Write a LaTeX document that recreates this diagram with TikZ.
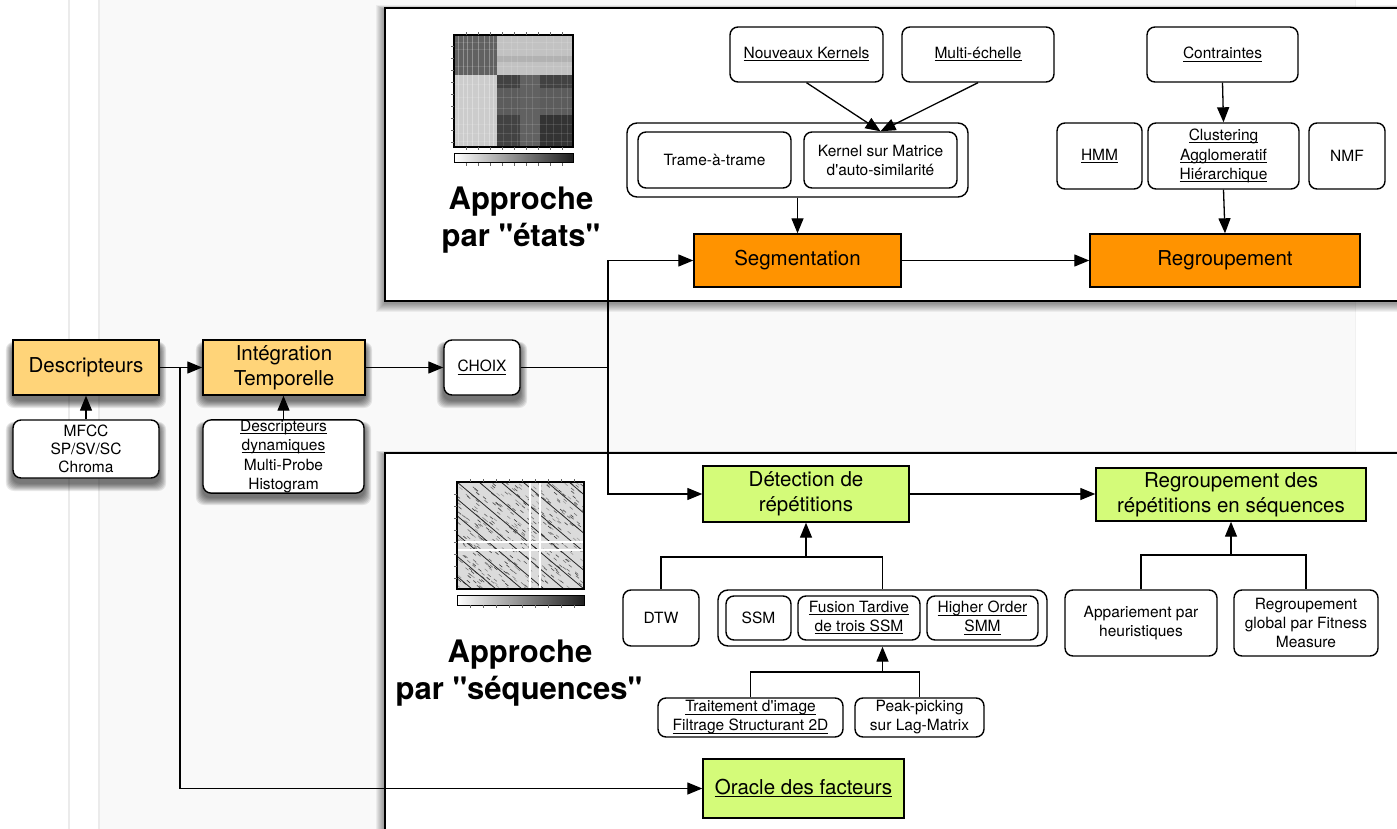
\documentclass[tikz,border=0pt]{standalone}
\usepackage{fontspec}
% plain family: keeps straight quotes and apostrophes
\newfontfamily\hv{TeX Gyre Heros}
\usetikzlibrary{arrows.meta}
\definecolor{tangerine}{HTML}{FF9300}
\definecolor{cantaloupe}{HTML}{FFD479}
\definecolor{honeydew}{HTML}{D4FB79}
\definecolor{canvas}{HTML}{F9F9F9}
\definecolor{pagerule}{HTML}{EBEBEB}
% underline drawn as a rule under the text box
\newcommand{\ulin}[1]{\leavevmode\setbox0\hbox{#1}\rlap{\rule[-2.6pt]{\wd0}{1pt}}\box0}
% soft drop shadow under a box given by its corners
\newcommand{\softshadow}[4]{%
  \foreach \i in {1,...,8}{%
    \fill[black, opacity=0.085, rounded corners=8pt]
      (#1-0.9*\i, #2+5-0.4*\i) rectangle (#3+0.9*\i, #4+5+\i);}}
\tikzset{
  box/.style={draw=black, line width=1.4pt, fill=white, align=center, inner sep=0pt, text=black},
  small/.style={font=\hv\fontsize{15.5}{19}\selectfont},
  big/.style={font=\hv\fontsize{20.5}{25}\selectfont},
  rbox/.style={box, small, rounded corners=8pt},
  grpbox/.style={box, rounded corners=10pt},
  obox/.style={box, big, fill=tangerine},
  gbox/.style={box, big, fill=honeydew},
  lbox/.style={box, big, fill=cantaloupe},
  arr/.style={line width=1.3pt, -{Triangle[length=15pt,width=12pt]}},
  con/.style={line width=1.3pt},
  title/.style={font=\hv\fontsize{31}{36}\selectfont\bfseries, anchor=base},
  panel/.style={draw=black, line width=1.5pt, fill=white},
  cbar/.style={draw=black, line width=1pt, left color=white, right color=black!88},
}
\begin{document}
\begin{tikzpicture}[x=1pt,y=-1pt]
\useasboundingbox (0,0) rectangle (1397,829);
\clip (0,0) rectangle (1397,829);

% canvas and page rules
\fill[white] (0,0) rectangle (1397,829);
\fill[canvas] (100,0) rectangle (1355,829);
\draw[pagerule, line width=2pt] (69,0) -- (69,829) (99,0) -- (99,829);
\draw[pagerule!70, line width=1pt] (1355,0) -- (1355,829);

% panel shadows
\foreach \i in {1,...,9} {
  \fill[black, opacity=0.05] (385-\i, 10-0.5*\i) rectangle (1420, 303+\i);
  \fill[black, opacity=0.05] (385-\i, 455-0.5*\i) rectangle (1420, 845);
}
% panels
\path[panel] (385,8) rectangle (1420,301);
\path[panel] (385,453) rectangle (1420,845);

% shadows of the feature extraction boxes
\softshadow{13}{340}{159}{395}
\softshadow{203}{340}{365}{395}
\softshadow{444}{340}{520}{395}
\softshadow{13}{420}{159}{478}
\softshadow{203}{420}{364}{492}

% ---- state-based self-similarity matrix
\fill[black!62] (454,35) rectangle (497,75);
\fill[black!24] (497,35) rectangle (573,75);
\fill[black!20] (454,75) rectangle (497,147);
\fill[black!74] (497,75) rectangle (573,147);
\fill[black!64] (497,88) rectangle (573,115);
\fill[black!62] (520,75) rectangle (540,147);
\fill[black!80] (540,115) rectangle (573,147);
\fill[black!30] (497,56) rectangle (573,62);
\foreach \x in {458,463,467,472,478,484,489,493}
  \draw[white, opacity=0.3, line width=0.8pt] (\x,35) -- (\x,147);
\foreach \x in {503,511,517,526,532,546,553,561,567}
  \draw[white, opacity=0.12, line width=0.8pt] (\x,35) -- (\x,147);
\foreach \y in {42,49,66,84,97,108,124,133,141}
  \draw[white, opacity=0.12, line width=0.8pt] (454,\y) -- (573,\y);
\draw[line width=1.2pt] (454,35) rectangle (573,147);
\foreach \x in {466,478,490,502,514,526,538,550,562}
  \draw[line width=0.4pt, black!60] (\x,35) -- (\x,32) (\x,147) -- (\x,150);
\foreach \y in {46,58,70,82,94,106,118,130,142}
  \draw[line width=0.4pt, black!60] (454,\y) -- (451,\y);
\path[cbar] (454,154) rectangle (573,163);
\foreach \x in {466,478,490,502,514,526,538,550,562}
  \draw[line width=0.4pt, black!60] (\x,163) -- (\x,166);

\node[title] (t1a) at (521,210) {Approche};
\node[title] (t1b) at (521,247) {par "états"};

% ---- sequence-based self-similarity matrix
\fill[black!14] (457,482) rectangle (584,589);
\begin{scope}
  \clip (457,482) rectangle (584,589);
  \pgfmathsetseed{7}
  \foreach \k in {1,...,420} {
    \pgfmathsetmacro{\rx}{457+127*rnd}
    \pgfmathsetmacro{\ry}{482+107*rnd}
    \pgfmathsetmacro{\rg}{35+45*rnd}
    \draw[black!\rg, line width=0.6pt] (\rx,\ry) -- ++(3,2.5);
  }
  \foreach \o in {-112,-88,-62,-40,-20,0,22,44,66,90,112}
    \draw[black!85, line width=0.8pt] (457+\o,482) -- ++(127,107);
  \draw[white, line width=1.8pt] (530,482) -- (530,589) (540,482) -- (540,589)
        (457,542) -- (584,542) (457,550) -- (584,550);
\end{scope}
\draw[line width=1.2pt] (457,482) rectangle (584,589);
\foreach \x in {470,483,496,509,522,535,548,561,574}
  \draw[line width=0.4pt, black!60] (\x,482) -- (\x,479);
\foreach \y in {494,506,518,530,542,554,566,578}
  \draw[line width=0.4pt, black!60] (457,\y) -- (454,\y);
\path[cbar] (457,595) rectangle (584,605);
\foreach \x in {470,483,496,509,522,535,548,561,574}
  \draw[line width=0.4pt, black!60] (\x,605) -- (\x,608);

\node[title] (t2a) at (520,662) {Approche};
\node[title] (t2b) at (519,699) {par "séquences"};

% ---- feature extraction chain
\node[lbox, minimum width=146pt, minimum height=55pt] (desc) at (86,367.5) {Descripteurs};
\node[lbox, minimum width=162pt, minimum height=55pt] (integ) at (284,367.5) {Intégration\\Temporelle};
\node[rbox, minimum width=76pt, minimum height=55pt] (choix) at (482,367.5) {\ulin{CHOIX}};
\node[rbox, minimum width=146pt, minimum height=58pt, font=\hv\fontsize{15.5}{18}\selectfont] (mfcc) at (86,449) {MFCC\\SP/SV/SC\\Chroma};
\node[rbox, minimum width=161pt, minimum height=72pt, font=\hv\fontsize{15.5}{19.5}\selectfont] (ddyn) at (283.5,456.5) {\ulin{Descripteurs}\\\ulin{dynamiques}\\Multi-Probe\\Histogram};

% ---- state-based branch
\node[rbox, minimum width=153pt, minimum height=55pt] (nk) at (806.5,54.5) {\ulin{Nouveaux Kernels}};
\node[rbox, minimum width=152pt, minimum height=55pt] (me) at (978,54.5) {\ulin{Multi-échelle}};
\node[rbox, minimum width=151pt, minimum height=55pt] (ct) at (1222.5,54.5) {\ulin{Contraintes}};
\node[grpbox, minimum width=341pt, minimum height=74pt] (grp1) at (797.5,160) {};
\node[rbox, minimum width=153pt, minimum height=56pt] (tt) at (714.5,160) {Trame-à-trame};
\node[rbox, minimum width=153pt, minimum height=56pt] (ks) at (880.5,160) {Kernel sur Matrice\\d'auto-similarité};
\node[rbox, minimum width=85pt, minimum height=66pt] (hmm) at (1099.5,156) {\ulin{HMM}};
\node[rbox, minimum width=151pt, minimum height=66pt, font=\hv\fontsize{15.5}{19.5}\selectfont] (cah) at (1223.5,156) {\ulin{Clustering}\\\ulin{Agglomeratif}\\\ulin{Hiérarchique}};
\node[rbox, minimum width=76pt, minimum height=66pt] (nmf) at (1347,156) {NMF};
\node[obox, minimum width=207pt, minimum height=53pt] (seg) at (797.5,260.5) {Segmentation};
\node[obox, minimum width=270pt, minimum height=53pt] (reg) at (1225,260.5) {Regroupement};

% ---- sequence-based branch
\node[gbox, minimum width=206pt, minimum height=56pt] (det) at (806,494) {Détection de\\répétitions};
\node[gbox, minimum width=270pt, minimum height=53pt] (rrs) at (1231,494.5) {Regroupement des\\répétitions en séquences};
\node[rbox, minimum width=76pt, minimum height=56pt] (dtw) at (661,618) {DTW};
\node[grpbox, minimum width=329pt, minimum height=56pt] (grp2) at (882.5,618) {};
\node[rbox, minimum width=65pt, minimum height=44pt] (ssm) at (758.5,618) {SSM};
\node[rbox, minimum width=122pt, minimum height=44pt] (ft) at (859,618) {\ulin{Fusion Tardive}\\\ulin{de trois SSM}};
\node[rbox, minimum width=111pt, minimum height=44pt] (ho) at (982.5,618) {\ulin{Higher Order}\\\ulin{SMM}};
\node[rbox, minimum width=185pt, minimum height=39pt] (ti) at (750.5,717.5) {\ulin{Traitement d'image}\\\ulin{Filtrage Structurant 2D}};
\node[rbox, minimum width=129pt, minimum height=39pt] (pp) at (919.5,717.5) {Peak-picking\\sur Lag-Matrix};
\node[rbox, minimum width=152pt, minimum height=66pt] (app) at (1141,623) {Appariement par\\heuristiques};
\node[rbox, minimum width=144pt, minimum height=66pt] (rgf) at (1306,623) {Regroupement\\global par Fitness\\Measure};
\node[gbox, minimum width=201pt, minimum height=59pt] (orc) at (803.5,788.5) {\ulin{Oracle des facteurs}};

% ---- connectors
\coordinate (br) at (180,367.5);
\coordinate (sp) at (608,367.5);
\coordinate (j1) at (806,557);
\coordinate (j2) at (882.5,672);
\coordinate (j3) at (1231,555);

\draw[arr] (mfcc.north) -- (desc.south);
\draw[arr] (ddyn.north) -- (ddyn.north |- integ.south);
\draw[arr] (desc.east) -- (integ.west);
\draw[arr] (br) |- (orc.west);
\draw[arr] (integ.east) -- (choix.west);
\draw[con] (choix.east) -- (sp);
\draw[arr] (sp) |- (seg.west);
\draw[arr] (sp) |- (det.west);

\draw[arr] (nk.south) -- (ks.north);
\draw[arr] (me.south) -- (ks.north);
\draw[arr] (grp1.south) -- (seg.north);
\draw[arr] (ct.south) -- (cah.north);
\draw[arr] (cah.south) -- (reg.north);
\draw[arr] (seg.east) -- (reg.west);

\draw[arr] (det.east) -- (det.east -| rrs.west);
\draw[con] (dtw.north) |- (j1) -| (grp2.north);
\draw[arr] (j1) -- (det.south);
\draw[con] (ti.north) |- (j2) -| (pp.north);
\draw[arr] (j2) -- (grp2.south);
\draw[con] (app.north) |- (j3) -| (rgf.north);
\draw[arr] (j3) -- (rrs.south);
\end{tikzpicture}
\end{document}
